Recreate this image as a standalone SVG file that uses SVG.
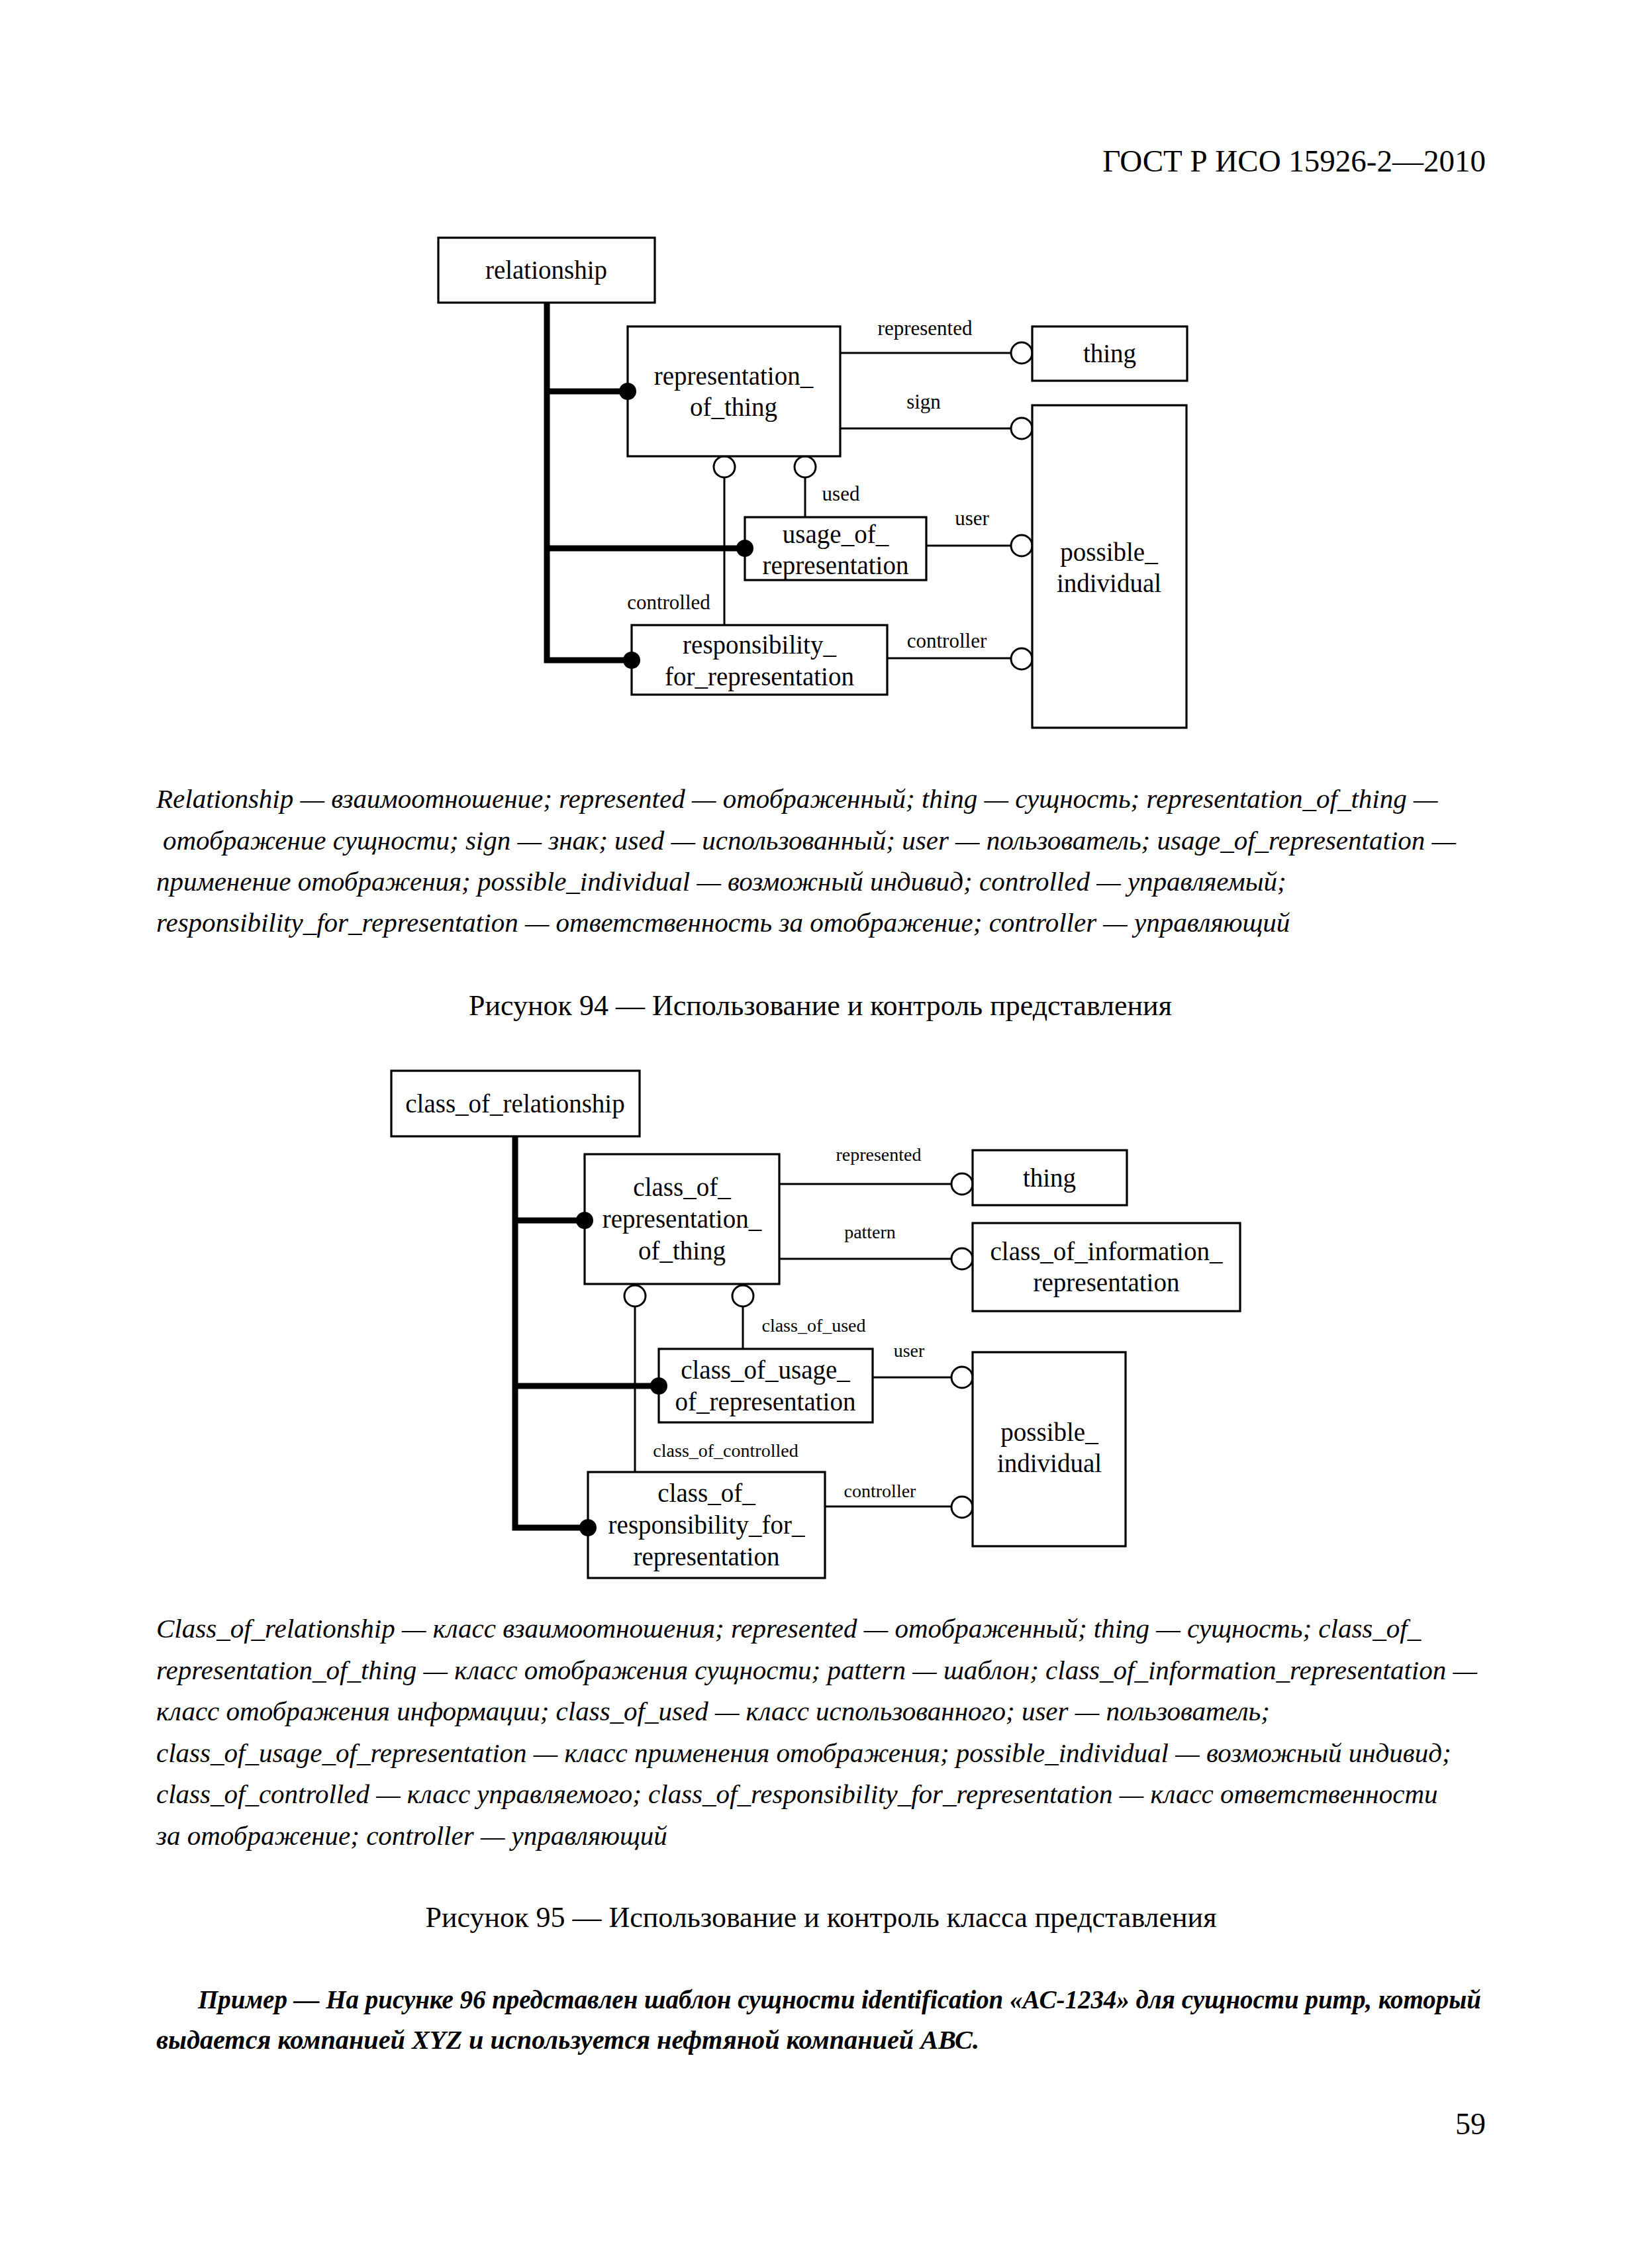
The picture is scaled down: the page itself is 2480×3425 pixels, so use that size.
<svg xmlns="http://www.w3.org/2000/svg" width="2480" height="3425" viewBox="0 0 2480 3425">
<style>
.bg{fill:#fff}
.box{fill:#fff;stroke:#000;stroke-width:3.2}
.nt{font-family:"Liberation Serif","Times New Roman",serif;font-size:39px;text-anchor:middle;fill:#000}
.lb1{font-family:"Liberation Serif","Times New Roman",serif;font-size:31px;text-anchor:middle;fill:#000}
.lb2{font-family:"Liberation Serif","Times New Roman",serif;font-size:28px;text-anchor:middle;fill:#000}
.thick{fill:none;stroke:#000;stroke-width:9}
.thin{fill:none;stroke:#000;stroke-width:3}
.dot{fill:#000}
.oc{fill:#fff;stroke:#000;stroke-width:3}
.body{font-family:"Liberation Serif","Times New Roman",serif;fill:#000}
.it{font-style:italic;font-size:41px}
.cap{font-size:44px;text-anchor:middle}
.ex{font-style:italic;font-weight:bold;font-size:40px}
</style>
<rect class="bg" x="0" y="0" width="2480" height="3425"/>

<text class="body" x="2244" y="259" font-size="47" text-anchor="end">ГОСТ Р ИСО 15926-2—2010</text>

<!-- Figure 94 -->
<g id="fig94-connectors">
<path class="thick" d="M826,457 V997 H954"/>
<path class="thick" d="M826,591 H948"/>
<path class="thick" d="M826,828 H1125"/>
<line class="thin" x1="1269" y1="533" x2="1527" y2="533"/>
<line class="thin" x1="1269" y1="647" x2="1527" y2="647"/>
<line class="thin" x1="1399" y1="824" x2="1527" y2="824"/>
<line class="thin" x1="1340" y1="994" x2="1527" y2="994"/>
<line class="thin" x1="1216" y1="721" x2="1216" y2="781"/>
<line class="thin" x1="1094" y1="721" x2="1094" y2="944"/>
<circle class="oc" cx="1543" cy="533" r="16"/>
<circle class="oc" cx="1543" cy="647" r="16"/>
<circle class="oc" cx="1543" cy="824" r="16"/>
<circle class="oc" cx="1543" cy="995" r="16"/>
<circle class="oc" cx="1216" cy="705" r="16"/>
<circle class="oc" cx="1094" cy="705" r="16"/>
<text class="lb1" x="1397" y="506">represented</text>
<text class="lb1" x="1395" y="617">sign</text>
<text class="lb1" x="1270" y="756">used</text>
<text class="lb1" x="1468" y="793">user</text>
<text class="lb1" x="1010" y="920">controlled</text>
<text class="lb1" x="1430" y="978">controller</text>
</g>
<g id="n94-relationship">
<rect class="box" x="662" y="359" width="327" height="98"/>
<text class="nt" x="825" y="421">relationship</text>
</g>
<g id="n94-representation_of_thing">
<rect class="box" x="948" y="493" width="321" height="196"/>
<text class="nt" x="1108" y="581">representation_</text>
<text class="nt" x="1108" y="628">of_thing</text>
</g>
<g id="n94-thing">
<rect class="box" x="1559" y="493" width="234" height="82"/>
<text class="nt" x="1676" y="547">thing</text>
</g>
<g id="n94-possible_individual">
<rect class="box" x="1559" y="612" width="233" height="487"/>
<text class="nt" x="1675" y="847">possible_</text>
<text class="nt" x="1675" y="894">individual</text>
</g>
<g id="n94-usage_of_representation">
<rect class="box" x="1125" y="781" width="274" height="95"/>
<text class="nt" x="1262" y="820">usage_of_</text>
<text class="nt" x="1262" y="867">representation</text>
</g>
<g id="n94-responsibility_for_representation">
<rect class="box" x="954" y="944" width="386" height="105"/>
<text class="nt" x="1147" y="987">responsibility_</text>
<text class="nt" x="1147" y="1035">for_representation</text>
</g>
<g id="fig94-dots">
<circle class="dot" cx="948" cy="591" r="13"/>
<circle class="dot" cx="1125" cy="828" r="13"/>
<circle class="dot" cx="954" cy="997" r="13"/>
</g>

<g id="legend94" class="body it">
<text x="236" y="1220">Relationship — взаимоотношение; represented — отображенный; thing — сущность; representation_of_thing —</text>
<text x="246" y="1283">отображение сущности; sign — знак; used — использованный; user — пользователь; usage_of_representation —</text>
<text x="236" y="1345">применение отображения; possible_individual — возможный индивид; controlled — управляемый;</text>
<text x="236" y="1407">responsibility_for_representation — ответственность за отображение; controller — управляющий</text>
</g>
<text class="body cap" x="1239" y="1533">Рисунок 94 — Использование и контроль представления</text>

<!-- Figure 95 -->
<g id="fig95-connectors">
<path class="thick" d="M778,1716 V2307 H888"/>
<path class="thick" d="M778,1843 H883"/>
<path class="thick" d="M778,2093 H995"/>
<line class="thin" x1="1177" y1="1788" x2="1437" y2="1788"/>
<line class="thin" x1="1177" y1="1901" x2="1437" y2="1901"/>
<line class="thin" x1="1318" y1="2080" x2="1437" y2="2080"/>
<line class="thin" x1="1246" y1="2275" x2="1437" y2="2275"/>
<line class="thin" x1="1122" y1="1973" x2="1122" y2="2037"/>
<line class="thin" x1="959" y1="1973" x2="959" y2="2223"/>
<circle class="oc" cx="1453" cy="1788" r="16"/>
<circle class="oc" cx="1453" cy="1901" r="16"/>
<circle class="oc" cx="1453" cy="2080" r="16"/>
<circle class="oc" cx="1453" cy="2276" r="16"/>
<circle class="oc" cx="1122" cy="1957" r="16"/>
<circle class="oc" cx="959" cy="1957" r="16"/>
<text class="lb2" x="1327" y="1753">represented</text>
<text class="lb2" x="1314" y="1870">pattern</text>
<text class="lb2" x="1229" y="2011">class_of_used</text>
<text class="lb2" x="1373" y="2049">user</text>
<text class="lb2" x="1096" y="2200">class_of_controlled</text>
<text class="lb2" x="1329" y="2261">controller</text>
</g>
<g id="n95-class_of_relationship">
<rect class="box" x="591" y="1617" width="375" height="99"/>
<text class="nt" x="778" y="1680">class_of_relationship</text>
</g>
<g id="n95-class_of_representation_of_thing">
<rect class="box" x="883" y="1743" width="294" height="196"/>
<text class="nt" x="1030" y="1806">class_of_</text>
<text class="nt" x="1030" y="1854">representation_</text>
<text class="nt" x="1030" y="1902">of_thing</text>
</g>
<g id="n95-thing">
<rect class="box" x="1469" y="1737" width="233" height="83"/>
<text class="nt" x="1585" y="1792">thing</text>
</g>
<g id="n95-class_of_information_representation">
<rect class="box" x="1469" y="1847" width="404" height="133"/>
<text class="nt" x="1671" y="1903">class_of_information_</text>
<text class="nt" x="1671" y="1950">representation</text>
</g>
<g id="n95-class_of_usage_of_representation">
<rect class="box" x="995" y="2037" width="323" height="111"/>
<text class="nt" x="1156" y="2082">class_of_usage_</text>
<text class="nt" x="1156" y="2130">of_representation</text>
</g>
<g id="n95-possible_individual">
<rect class="box" x="1469" y="2042" width="231" height="293"/>
<text class="nt" x="1585" y="2176">possible_</text>
<text class="nt" x="1585" y="2223">individual</text>
</g>
<g id="n95-class_of_responsibility_for_representation">
<rect class="box" x="888" y="2223" width="358" height="160"/>
<text class="nt" x="1067" y="2268">class_of_</text>
<text class="nt" x="1067" y="2316">responsibility_for_</text>
<text class="nt" x="1067" y="2364">representation</text>
</g>
<g id="fig95-dots">
<circle class="dot" cx="883" cy="1843" r="13"/>
<circle class="dot" cx="995" cy="2093" r="13"/>
<circle class="dot" cx="888" cy="2307" r="13"/>
</g>

<g id="legend95" class="body it">
<text x="236" y="2473">Class_of_relationship — класс взаимоотношения; represented — отображенный; thing — сущность; class_of_</text>
<text x="236" y="2536">representation_of_thing — класс отображения сущности; pattern — шаблон; class_of_information_representation —</text>
<text x="236" y="2598">класс отображения информации; class_of_used — класс использованного; user — пользователь;</text>
<text x="236" y="2661">class_of_usage_of_representation — класс применения отображения; possible_individual — возможный индивид;</text>
<text x="236" y="2723">class_of_controlled — класс управляемого; class_of_responsibility_for_representation — класс ответственности</text>
<text x="236" y="2786">за отображение; controller — управляющий</text>
</g>
<text class="body cap" x="1240" y="2910">Рисунок 95 — Использование и контроль класса представления</text>

<g id="example" class="body ex">
<text x="299" y="3033" textLength="1938" lengthAdjust="spacingAndGlyphs">Пример — На рисунке 96 представлен шаблон сущности identification «АС-1234» для сущности pump, который</text>
<text x="236" y="3094" textLength="1243" lengthAdjust="spacingAndGlyphs">выдается компанией XYZ и используется нефтяной компанией АВС.</text>
</g>
<text class="body" x="2244" y="3223" font-size="46" text-anchor="end">59</text>
</svg>
